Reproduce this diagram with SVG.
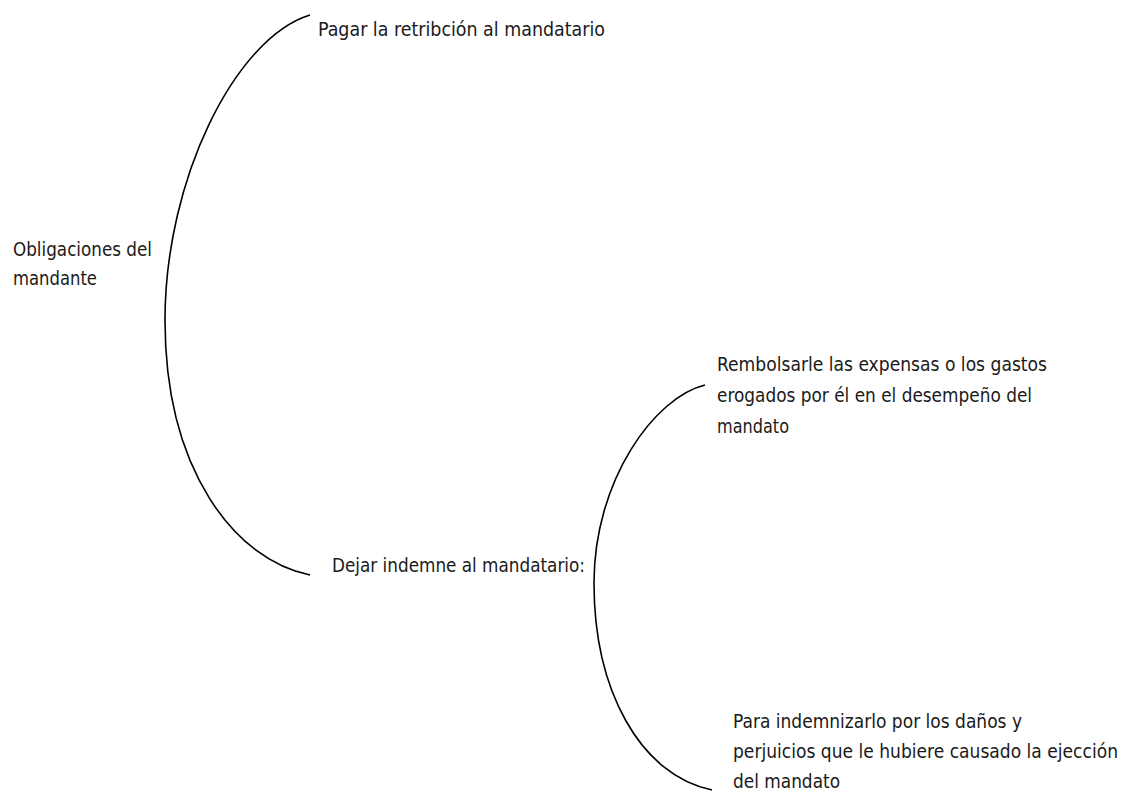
<svg xmlns="http://www.w3.org/2000/svg" width="1131" height="792" viewBox="0 0 1131 792">
<style>
.bg{fill:#ffffff}
.lbl{font-family:"Liberation Sans Narrow","DejaVu Sans Condensed","Liberation Sans",sans-serif;font-size:19px;fill:#1a1a1a}
.brace{fill:none;stroke:#000000;stroke-width:1.6}
</style>
<rect class="bg" x="0" y="0" width="1131" height="792"/>
<g id="connectors">
<path class="brace" d="M310,15 C235,38 165,180 165,320 C165,470 235,560 310,575"/>
<path class="brace" d="M705,385 C655,397 594,480 594,583 C594,690 640,775 712,790"/>
</g>
<g id="node-obligaciones">
<text class="lbl" x="13" y="256" textLength="139" lengthAdjust="spacingAndGlyphs">Obligaciones del</text>
<text class="lbl" x="13" y="285" textLength="84" lengthAdjust="spacingAndGlyphs">mandante</text>
</g>
<g id="node-pagar">
<text class="lbl" x="318" y="36" textLength="287" lengthAdjust="spacingAndGlyphs">Pagar la retribción al mandatario</text>
</g>
<g id="node-dejar">
<text class="lbl" x="332" y="572" textLength="253" lengthAdjust="spacingAndGlyphs">Dejar indemne al mandatario:</text>
</g>
<g id="node-rembolsar">
<text class="lbl" x="717" y="371" textLength="330" lengthAdjust="spacingAndGlyphs">Rembolsarle las expensas o los gastos</text>
<text class="lbl" x="717" y="402" textLength="315" lengthAdjust="spacingAndGlyphs">erogados por él en el desempeño del</text>
<text class="lbl" x="717" y="433" textLength="72" lengthAdjust="spacingAndGlyphs">mandato</text>
</g>
<g id="node-indemnizar">
<text class="lbl" x="733" y="728" textLength="289" lengthAdjust="spacingAndGlyphs">Para indemnizarlo por los daños y</text>
<text class="lbl" x="733" y="758" textLength="385" lengthAdjust="spacingAndGlyphs">perjuicios que le hubiere causado la ejección</text>
<text class="lbl" x="733" y="788" textLength="107" lengthAdjust="spacingAndGlyphs">del mandato</text>
</g>
</svg>
